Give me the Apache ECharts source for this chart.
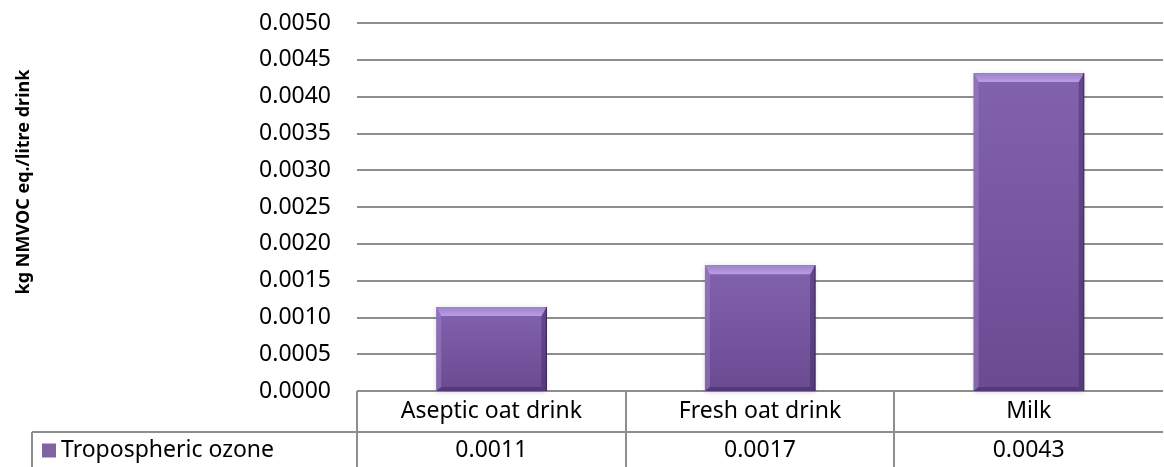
<!DOCTYPE html>
<html>
<head>
<meta charset="utf-8">
<script src="https://cdn.jsdelivr.net/npm/echarts@6/dist/echarts.min.js"></script>
<style>
  html, body { margin: 0; padding: 0; background: #fff; }
  #chart { width: 1164px; height: 467px; }
</style>
</head>
<body>
<div id="chart"></div>
<script>
// data
const categories = ['Aseptic oat drink', 'Fresh oat drink', 'Milk']
const ozone = [0.00114, 0.00171, 0.00432]
const seriesName = 'Tropospheric ozone'
const yAxisTitle = 'kg NMVOC eq./litre drink'

// layout
const W = 1164
const H = 467
const GRID_LEFT = 357
const GRID_RIGHT = 1
const GRID_TOP = 23
const GRID_BOTTOM = 76
const ROW1 = 41 // height of the category row of the data table
const FONT = '"Noto Sans", "Open Sans", sans-serif'
const FS = 23
const LINE = '#8e8e8e'

const chart = echarts.init(document.getElementById('chart'))

// Excel like bevelled bar
function renderBevelBar(params, api) {
  const top = api.coord([api.value(0), api.value(1)])
  const base = api.coord([api.value(0), 0])
  const w = api.size([1, 0])[0] * 0.41
  const x = top[0] - w / 2
  const y = top[1]
  const h = base[1] - top[1]
  const bt = Math.min(9, h / 2)
  const bs = 5
  const bb = 4
  return {
    type: 'group',
    children: [
      {
        type: 'rect',
        shape: { x: x, y: y, width: w, height: h },
        style: {
          fill: new echarts.graphic.LinearGradient(0, 0, 0, 1, [
            { offset: 0, color: '#8262ad' },
            { offset: 1, color: '#6a4b92' }
          ]),
          shadowBlur: 5,
          shadowColor: 'rgba(0,0,0,0.18)',
          shadowOffsetY: 1
        }
      },
      {
        type: 'polygon',
        shape: { points: [[x, y], [x + bs, y + bt], [x + bs, y + h - bb], [x, y + h]] },
        style: { fill: 'rgba(160,130,205,0.5)' }
      },
      {
        type: 'polygon',
        shape: { points: [[x + w, y], [x + w, y + h], [x + w - bs, y + h - bb], [x + w - bs, y + bt]] },
        style: { fill: 'rgba(55,35,85,0.4)' }
      },
      {
        type: 'polygon',
        shape: { points: [[x, y + h], [x + w, y + h], [x + w - bs, y + h - bb], [x + bs, y + h - bb]] },
        style: { fill: 'rgba(50,30,80,0.4)' }
      },
      {
        type: 'polygon',
        shape: { points: [[x, y], [x + w, y], [x + w - bs, y + bt], [x + bs, y + bt]] },
        style: {
          fill: new echarts.graphic.LinearGradient(0, 0, 0, 1, [
            { offset: 0, color: '#9d80cc' },
            { offset: 1, color: '#b79ee2' }
          ])
        }
      },
      {
        type: 'line',
        shape: { x1: x + w, y1: y, x2: x + w, y2: y + h },
        style: { stroke: '#3e2a5c', lineWidth: 1.2 }
      }
    ]
  }
}

// data table lines under the plot
const plotBottom = H - GRID_BOTTOM
const colW = (W - GRID_LEFT - GRID_RIGHT) / categories.length
const tableLines = [
  { x1: GRID_LEFT, y1: plotBottom, x2: GRID_LEFT, y2: H },
  { x1: 32, y1: plotBottom + ROW1, x2: W - GRID_RIGHT, y2: plotBottom + ROW1 },
  { x1: 32, y1: plotBottom + ROW1, x2: 32, y2: H }
]
for (let i = 1; i < categories.length; i++) {
  const cx = Math.round(GRID_LEFT + colW * i)
  tableLines.push({ x1: cx, y1: plotBottom, x2: cx, y2: H })
}

chart.setOption({
  animation: false,
  textStyle: { fontFamily: FONT },
  grid: { left: GRID_LEFT, right: GRID_RIGHT, top: GRID_TOP, bottom: GRID_BOTTOM },
  legend: {
    left: 37,
    top: plotBottom + ROW1 + 2,
    icon: 'rect',
    itemWidth: 14,
    itemHeight: 14,
    itemGap: 6,
    textStyle: { fontSize: FS, color: '#000', fontFamily: FONT },
    data: [seriesName]
  },
  xAxis: [
    {
      type: 'category',
      data: categories,
      axisLine: { show: false },
      axisTick: { show: false },
      axisLabel: { margin: 20, verticalAlign: 'middle', fontSize: FS, color: '#000' }
    },
    {
      type: 'category',
      data: categories,
      position: 'bottom',
      offset: 39,
      axisLine: { show: false },
      axisTick: { show: false },
      axisLabel: {
        margin: 20,
        verticalAlign: 'middle',
        fontSize: FS,
        color: '#000',
        formatter: (v, i) => ozone[i].toFixed(4)
      }
    }
  ],
  yAxis: {
    type: 'value',
    min: 0,
    max: 0.005,
    interval: 0.0005,
    axisLine: { show: false },
    axisTick: { show: false },
    axisLabel: {
      margin: 26,
      fontSize: FS,
      color: '#000',
      formatter: v => v.toFixed(4)
    },
    splitLine: { lineStyle: { color: LINE, width: 2 } }
  },
  graphic: [
    {
      type: 'text',
      x: 24,
      y: 182,
      rotation: Math.PI / 2,
      style: {
        text: yAxisTitle,
        fontSize: 18,
        fontWeight: 'bold',
        fontFamily: FONT,
        fill: '#000',
        align: 'center',
        verticalAlign: 'middle'
      }
    }
  ].concat(tableLines.map(l => ({
    type: 'line',
    shape: l,
    style: { stroke: LINE, lineWidth: 2 }
  }))),
  series: [
    {
      name: seriesName,
      type: 'custom',
      itemStyle: { color: '#8064a2' },
      renderItem: renderBevelBar,
      encode: { x: 0, y: 1 },
      data: ozone.map((v, i) => [i, v])
    }
  ]
})
</script>
</body>
</html>
